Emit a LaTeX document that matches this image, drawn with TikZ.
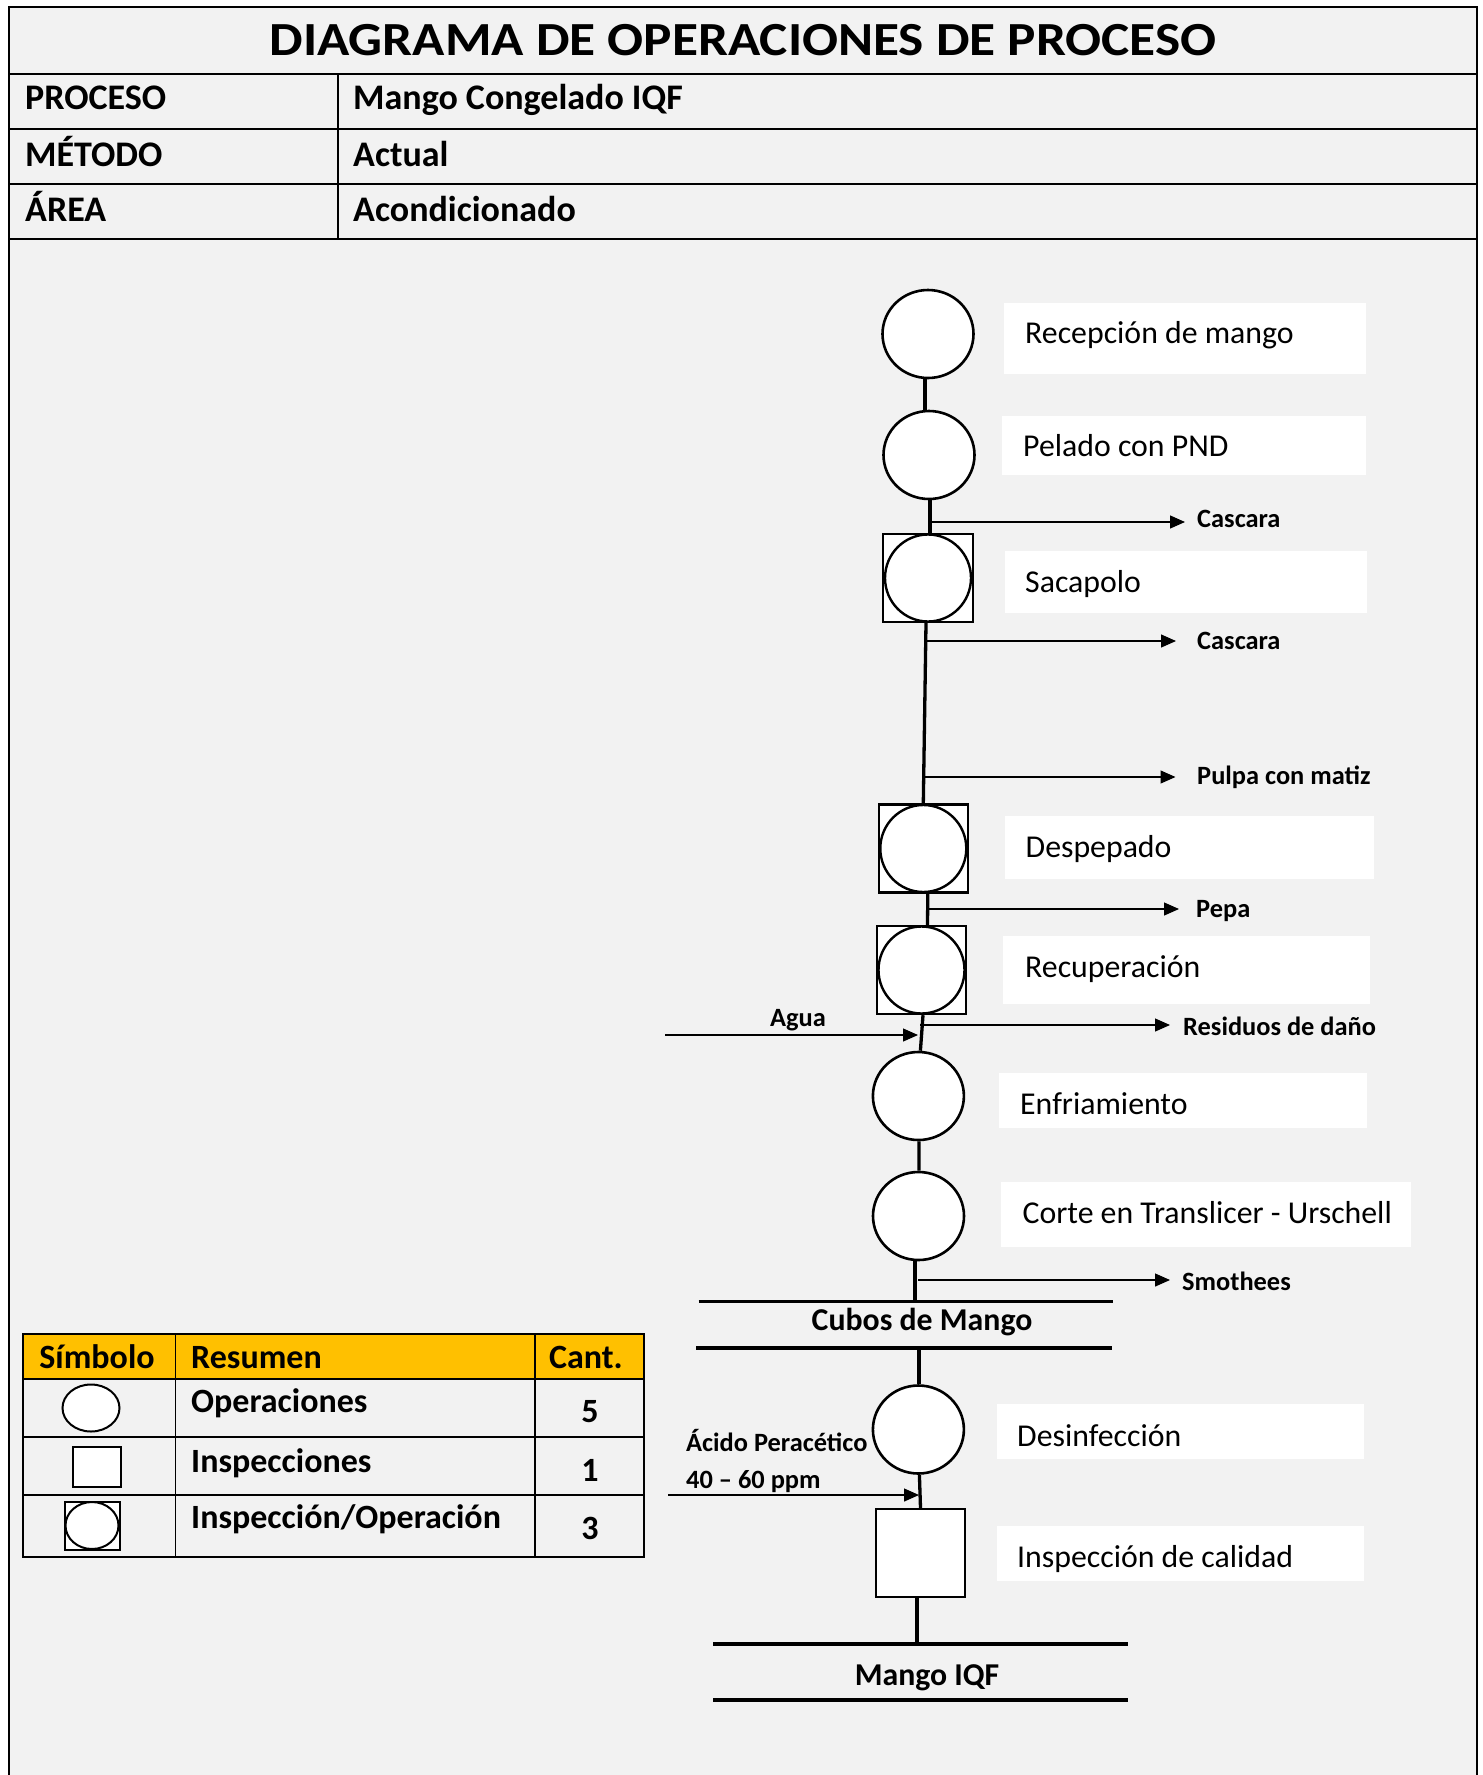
\documentclass[tikz,border=0pt]{standalone}
\usepackage{fontspec}
\setmainfont{Carlito}
\usepackage{graphicx}
\usetikzlibrary{shapes.geometric,arrows.meta,calc}
\definecolor{bg}{HTML}{F2F2F2}
\definecolor{hdr}{HTML}{FFC000}
\begin{document}
\begin{tikzpicture}[x=1pt,y=-1pt,
  frame/.style={line width=2pt},
  flow/.style={line width=3.3pt},
  bar/.style={line width=3.8pt},
  side/.style={line width=1.3pt,-{Triangle[length=15pt,width=13pt]}},
  opc/.style={ellipse,draw,fill=white,line width=2.6pt,minimum width=91pt,minimum height=88pt,inner sep=0pt},
  insp/.style={rectangle,draw,fill=white,line width=2.4pt,minimum width=89pt,minimum height=88pt,inner sep=0pt},
  inop/.style={ellipse,draw,fill=white,line width=2.4pt,minimum width=86pt,minimum height=87pt,inner sep=0pt},
  stepbox/.style={rectangle,fill=white,anchor=north west,inner sep=0pt},
  steptxt/.style={font=\fontsize{31.8}{36}\selectfont,anchor=west,inner sep=0pt,text height=20.1pt,text depth=0pt},
  lbl/.style={font=\bfseries\fontsize{26.4}{30}\selectfont,anchor=west,inner sep=0pt,text height=16.7pt,text depth=0pt},
  endtxt/.style={font=\bfseries\fontsize{31.8}{36}\selectfont,inner sep=0pt,text height=20.1pt,text depth=0pt},
  hdrtxt/.style={font=\bfseries\fontsize{36}{40}\selectfont,anchor=west,inner sep=0pt,text height=22.75pt,text depth=0pt},
  tbltxt/.style={font=\bfseries\fontsize{34}{38}\selectfont,inner sep=0pt,text height=21.5pt,text depth=0pt},
  tline/.style={line width=1.8pt}
]
\useasboundingbox (0,0) rectangle (1483,1775);
\fill[white] (0,0) rectangle (1483,1775);
\fill[bg] (9,7) rectangle (1477,1775);

% ---------- header ----------
\draw[frame] (9,1775) -- (9,7) -- (1477,7) -- (1477,1775);
\draw[frame] (9,74) -- (1477,74);
\draw[frame] (9,129) -- (1477,129);
\draw[frame] (9,184) -- (1477,184);
\draw[frame] (9,239) -- (1477,239);
\draw[line width=1.5pt] (338,74) -- (338,239);

\node[font=\bfseries\fontsize{47.5}{52}\selectfont,inner sep=0pt,text height=30pt,text depth=0pt] (title) at (743,40.3)
  {\scalebox{1.122}[1]{DIAGRAMA DE OPERACIONES DE PROCESO}};
\node[hdrtxt] (pl) at (25,98.5) {PROCESO};
\node[hdrtxt] (pv) at (353,98.5) {Mango Congelado IQF};
\node[hdrtxt] (ml) at (25,155.5) {MÉTODO};
\node[hdrtxt] (mv) at (353,155.5) {Actual};
\node[hdrtxt] (al) at (25,210.5) {ÁREA};
\node[hdrtxt] (av) at (353,210.5) {Acondicionado};

% ---------- step label boxes ----------
\node[stepbox,minimum width=362pt,minimum height=71pt] (b1) at (1004,303) {};
\node[stepbox,minimum width=364pt,minimum height=59pt] (b2) at (1002,416) {};
\node[stepbox,minimum width=362pt,minimum height=62pt] (b3) at (1005,551) {};
\node[stepbox,minimum width=369pt,minimum height=63pt] (b4) at (1005,816) {};
\node[stepbox,minimum width=367pt,minimum height=68pt] (b5) at (1003,936) {};
\node[stepbox,minimum width=368pt,minimum height=55pt] (b6) at (999,1073) {};
\node[stepbox,minimum width=410pt,minimum height=65pt] (b7) at (1001,1182) {};
\node[stepbox,minimum width=367pt,minimum height=55pt] (b8) at (997,1404) {};
\node[stepbox,minimum width=367pt,minimum height=55pt] (b9) at (997,1526) {};

\node[steptxt] (t1) at (1025,333) {Recepción de mango};
\node[steptxt] (t2) at (1023,446) {Pelado con PND};
\node[steptxt] (t3) at (1025,582.7) {Sacapolo};
\node[steptxt] (t4) at (1025.5,847.6) {Despepado};
\node[steptxt] (t5) at (1025,967) {Recuperación};
\node[steptxt] (t6) at (1020,1104) {Enfriamiento};
\node[steptxt] (t7) at (1022.4,1213) {Corte en Translicer - Urschell};
\node[steptxt] (t8) at (1017,1436) {Desinfección};
\node[steptxt] (t9) at (1017,1557.5) {Inspección de calidad};

% ---------- process symbols ----------
\node[opc] (c1) at (928,334) {};
\node[opc] (c2) at (929,455) {};
\node[insp,minimum width=90pt] (s3) at (928,578) {};
\node[inop] (s3c) at (s3.center) {};
\node[insp] (s4) at (923.3,848.5) {};
\node[inop] (s4c) at (s4.center) {};
\node[insp] (s5) at (921.5,970) {};
\node[inop] (s5c) at (s5.center) {};
\node[opc] (c6) at (918.4,1096) {};
\node[opc] (c7) at (918.5,1216) {};
\node[opc] (c8) at (918.4,1429.5) {};
\node[insp] (s9) at (920.5,1553) {};

% ---------- end bars ----------
\coordinate (cubA) at (698.5,1301.5);
\coordinate (cubB) at (1112.8,1301.5);
\coordinate (cubC) at (696,1348);
\coordinate (cubD) at (1111.7,1348);
\draw[bar] (cubA) -- (cubB);
\draw[bar] (cubC) -- (cubD);
\node[endtxt] (cubos) at (922,1320) {Cubos de Mango};

\coordinate (iqfA) at (713,1644);
\coordinate (iqfB) at (1128,1644);
\coordinate (iqfC) at (713,1700);
\coordinate (iqfD) at (1128,1700);
\draw[bar] (iqfA) -- (iqfB);
\draw[bar] (iqfC) -- (iqfD);
\node[endtxt] (iqf) at (927,1675) {Mango IQF};

% ---------- main flow ----------
\draw[flow] ([xshift=-3pt]c1.south) -- ([xshift=-4pt]c2.north);
\draw[flow] ([xshift=1pt]c2.south) -- ([xshift=2pt]s3.north);
\draw[flow] ([xshift=-2pt]s3.south) -- (s4.north);
\draw[flow] ([xshift=4.5pt]s4.south) -- ([xshift=6pt]s5.north);
\draw[flow] ([xshift=1.5pt]s5.south) -- ([xshift=2pt]c6.north);
\draw[flow] ([xshift=0.5pt]c6.south) -- ([xshift=0.5pt]c7.north);
\draw[flow] ([xshift=-3.5pt]c7.south) -- ([xshift=-3.5pt]c7.south |- cubA);
\draw[flow] ([xshift=0.5pt]c8.north |- cubC) -- ([xshift=0.5pt]c8.north);
\draw[flow] ([xshift=1pt]c8.south) -- (s9.north);
\draw[flow] ([xshift=-3.5pt]s9.south) -- ([xshift=-3.5pt]s9.south |- iqfA);

% ---------- side arrows ----------
\node[lbl] (l1) at (1197,519) {Cascara};
\coordinate (k1) at (931.5,522);
\draw[side] (k1) -- ([xshift=-12pt]k1 -| l1.west);

\node[lbl] (l2) at (1197,641) {Cascara};
\coordinate (k2) at (926,641);
\draw[side] (k2) -- ([xshift=-21pt]k2 -| l2.west);

\node[lbl] (l3) at (1197,776) {Pulpa con matiz};
\coordinate (k3) at (923.5,777);
\draw[side] (k3) -- ([xshift=-21.5pt]k3 -| l3.west);

\node[lbl] (l4) at (1196,909) {Pepa};
\coordinate (k4) at (928,909);
\draw[side] (k4) -- ([xshift=-17pt]k4 -| l4.west);

\node[lbl] (l5) at (1183,1027.5) {Residuos de daño};
\coordinate (k5) at (920,1025);
\draw[side] (k5) -- ([xshift=-13pt]k5 -| l5.west);

\node[lbl] (l6) at (1182,1282) {Smothees};
\coordinate (k6) at (918,1280);
\draw[side] (k6) -- ([xshift=-12pt]k6 -| l6.west);

\node[lbl] (l7) at (770,1018) {Agua};
\coordinate (k7) at (665,1035);
\coordinate (k7e) at (918,1035);
\draw[side] (k7) -- (k7e);

\node[lbl] (l8) at (686,1443) {Ácido Peracético};
\node[lbl] (l9) at (686,1480) {40 – 60 ppm};
\coordinate (k8) at (668,1495);
\coordinate (k8e) at (919,1495);
\draw[side] (k8) -- (k8e);

% ---------- summary table ----------
\fill[hdr] (23,1334) rectangle (644,1379);
\draw[tline] (23,1334) rectangle (644,1557);
\draw[tline] (23,1379) -- (644,1379);
\draw[tline] (23,1437) -- (644,1437);
\draw[tline] (23,1495) -- (644,1495);
\draw[tline] (175.5,1334) -- (175.5,1557);
\draw[tline] (535,1334) -- (535,1557);

\node[tbltxt] (h1) at (97,1357.5) {Símbolo};
\node[tbltxt,anchor=west] (h2) at (191,1357.5) {Resumen};
\node[tbltxt] (h3) at (586,1357.5) {Cant.};

\node[ellipse,draw,fill=white,line width=2pt,minimum width=57pt,minimum height=47pt,inner sep=0pt] (sy1) at (91,1408) {};
\node[tbltxt,anchor=west] (r1) at (191,1402) {Operaciones};
\node[tbltxt] (n1) at (590,1412) {5};

\node[rectangle,draw,fill=white,line width=2pt,minimum width=48pt,minimum height=40pt,inner sep=0pt] (sy2) at (96.6,1467) {};
\node[tbltxt,anchor=west] (r2) at (191,1461.7) {Inspecciones};
\node[tbltxt] (n2) at (590,1471) {1};

\node[rectangle,draw,fill=white,line width=2pt,minimum width=55pt,minimum height=48pt,inner sep=0pt] (sy3) at (92,1525.5) {};
\node[ellipse,draw,fill=white,line width=2pt,minimum width=53pt,minimum height=47pt,inner sep=0pt] (sy3c) at (sy3.center) {};
\node[tbltxt,anchor=west] (r3) at (191,1518) {Inspección/Operación};
\node[tbltxt] (n3) at (590,1529) {3};
\end{tikzpicture}
\end{document}
